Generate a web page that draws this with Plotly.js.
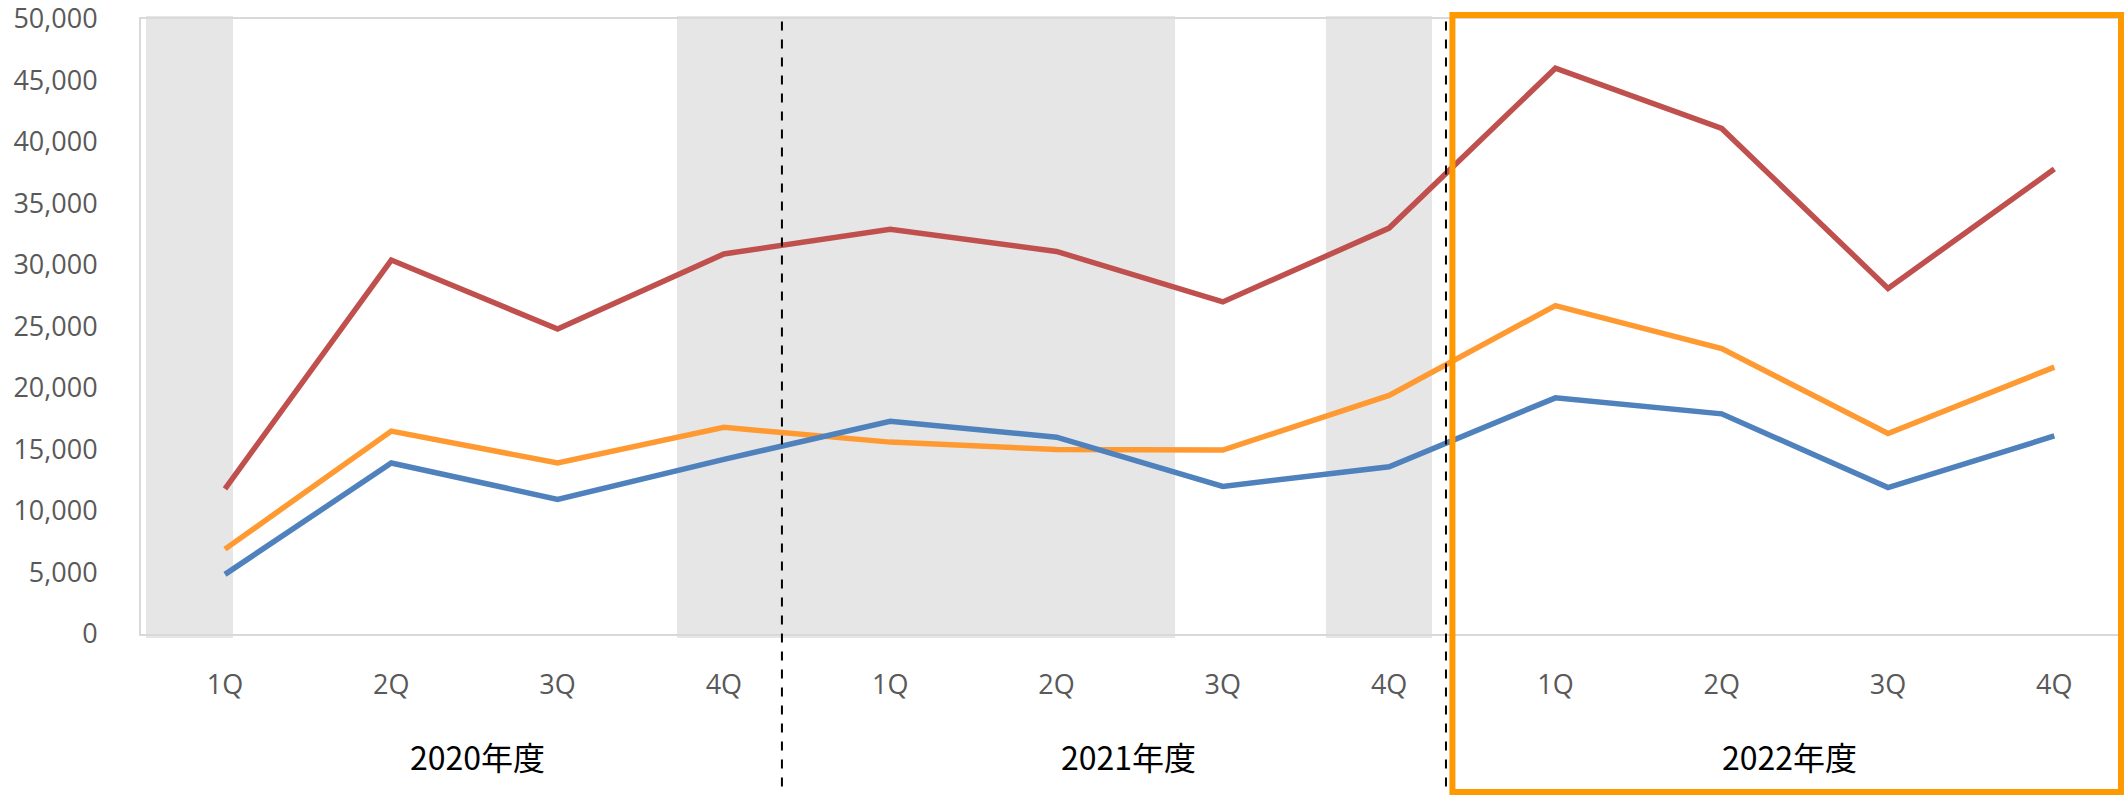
<!DOCTYPE html>
<html>
<head>
<meta charset="utf-8">
<script src="https://cdn.plot.ly/plotly-3.0.1.min.js"></script>
<style>html,body{margin:0;padding:0;background:#fff;}#chart{width:2126px;height:796px;}</style>
</head>
<body>
<div id="chart"></div>
<script>
// Data
const quarters = ["1Q","2Q","3Q","4Q","1Q","2Q","3Q","4Q","1Q","2Q","3Q","4Q"];
const fiscalYears = ["2020年度","2021年度","2022年度"];
const seriesRed    = [11800, 30400, 24800, 30900, 32900, 31100, 27000, 33000, 46000, 41100, 28100, 37800];
const seriesOrange = [6900, 16500, 13900, 16800, 15600, 15000, 14950, 19400, 26700, 23200, 16300, 21700];
const seriesBlue   = [4850, 13900, 10950, 14200, 17300, 16000, 12000, 13600, 19200, 17900, 11900, 16100];
const yTickVals = [0,5000,10000,15000,20000,25000,30000,35000,40000,45000,50000];

const idx = quarters.map((q,i)=>i);

function mk(y, color){
  return {x: idx, y: y, type:'scatter', mode:'lines',
    line:{color: color, width:5.5}, hoverinfo:'skip', showlegend:false};
}

const data = [mk(seriesRed,'#C0504D'), mk(seriesOrange,'#FF9A33'), mk(seriesBlue,'#4F81BD')];

const band = (a,b)=>({type:'rect', xref:'x', yref:'paper', x0:a, x1:b, y0:-0.0065, y1:1.005,
  fillcolor:'#E6E6E6', line:{width:0}, layer:'below'});
const dashLine = (xv)=>({type:'line', xref:'x', yref:'paper', x0:xv, x1:xv, y0:-0.248, y1:1.004,
  line:{color:'#000', width:2, dash:'dash'}});

const shapes = [
  band(-0.475, 0.048), band(2.718, 5.713), band(6.62, 7.258),
  dashLine(3.349), dashLine(7.342),
  {type:'rect', xref:'paper', yref:'paper', x0:0.662, x1:0.9995, y0:-0.257, y1:1.0065,
   line:{color:'#FF9900', width:6}, fillcolor:'rgba(0,0,0,0)'}
];

const annotations = fiscalYears.map((t,i)=>({
  text:t, xref:'x', yref:'paper', x:[1.52,5.43,9.41][i], y:-0.198,
  xanchor:'center', yanchor:'middle', showarrow:false,
  font:{family:'Noto Sans CJK JP, Noto Sans, sans-serif', size:32, color:'#000'}
}));

const layout = {
  width:2126, height:796,
  margin:{l:141, r:4, t:19, b:162},
  paper_bgcolor:'#fff', plot_bgcolor:'rgba(0,0,0,0)',
  xaxis:{range:[-0.505, 11.407], tickvals: idx, ticktext: quarters,
    showgrid:false, zeroline:false, showline:true, mirror:true, linecolor:'#D9D9D9', linewidth:2,
    ticks:'', ticklabelstandoff:26,
    tickfont:{family:'Open Sans, sans-serif', size:27, color:'#595959'}, fixedrange:true},
  yaxis:{range:[0,50000.01], tickvals:yTickVals, ticktext: yTickVals.map(v=>v.toLocaleString('en-US')),
    showgrid:false, zeroline:false, showline:true, mirror:true, linecolor:'#D9D9D9', linewidth:2,
    ticks:'', ticklabelstandoff:36, ticklabeloverflow:'allow',
    tickfont:{family:'Open Sans, sans-serif', size:27, color:'#595959'}, fixedrange:true},
  shapes: shapes,
  annotations: annotations
};

Plotly.newPlot('chart', data, layout, {staticPlot:true, displayModeBar:false});
</script>
</body>
</html>
